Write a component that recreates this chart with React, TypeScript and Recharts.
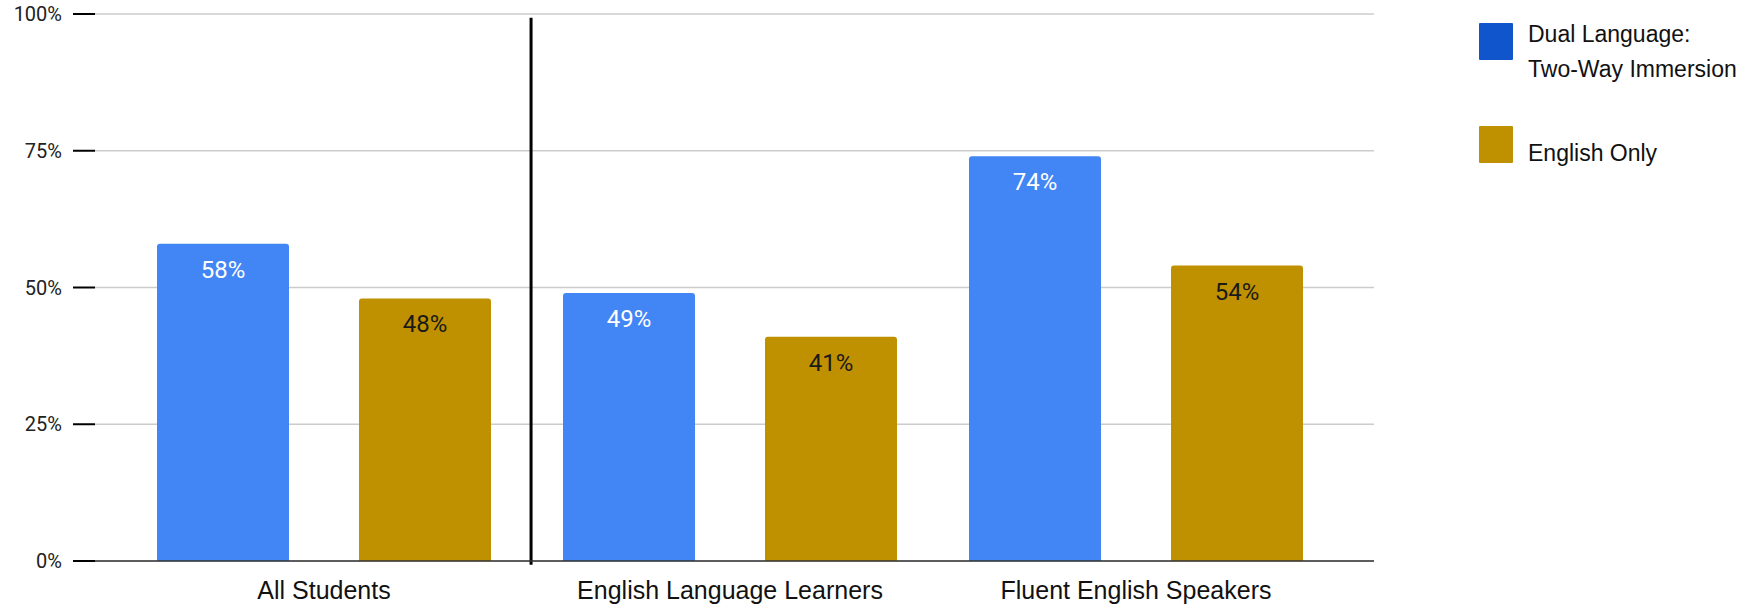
import { BarChart, Bar, XAxis, YAxis, CartesianGrid, LabelList, ReferenceLine } from 'recharts';

const categories = ['All Students', 'English Language Learners', 'Fluent English Speakers'];
const dualLanguage = [58, 49, 74];
const englishOnly = [48, 41, 54];
const yTicks = [0, 25, 50, 75, 100];
const seriesNames = ['Dual Language:\nTwo-Way Immersion', 'English Only'];

const BAR_COLORS = ['#4285f4', '#bf9000'];
const LEGEND_COLORS = ['#1155cc', '#bf9000'];

const data = categories.map((name, i) => ({
  name,
  idx: i,
  dual: dualLanguage[i],
  english: englishOnly[i],
}));

const fmt = (v: number) => `${v}%`;

export default function App() {
  return (
    <div style={{ position: 'absolute', left: 0, top: 0, width: 1763, height: 611, background: '#fff' }}>
      <BarChart
        width={1763}
        height={611}
        data={data}
        margin={{ top: 14, right: 389, left: 0, bottom: 0 }}
        barSize={132}
        barGap={70}
      >
        <CartesianGrid vertical={false} stroke="#cccccc" strokeWidth={1.5} />
        <XAxis
          dataKey="name"
          height={50}
          padding={{ left: 26, right: 35 }}
          axisLine={{ stroke: '#333', strokeWidth: 1.5 }}
          tickLine={false}
          tickMargin={14}
          tick={{ fill: '#111', fontSize: 25, fontFamily: '"Liberation Sans", Arial, sans-serif' }}
        />
        {/* hidden numeric axis (category index space), only used to place the group separator */}
        <XAxis
          xAxisId="sep"
          dataKey="idx"
          type="number"
          domain={[-0.5, 2.5]}
          ticks={[-0.5, 0.5, 1.5, 2.5]}
          allowDataOverflow
          padding={{ left: 26, right: 35 }}
          hide
        />
        <YAxis
          width={95}
          domain={[0, 100]}
          ticks={yTicks}
          tickFormatter={fmt}
          axisLine={false}
          tickSize={22}
          tickMargin={11}
          tickLine={{ stroke: '#000', strokeWidth: 2 }}
          tick={{ fill: '#222', fontSize: 20, fontFamily: 'Roboto, Arial, sans-serif' }}
        />
        <ReferenceLine
          xAxisId="sep"
          segment={[{ x: 0.51, y: 99.3 }, { x: 0.51, y: -0.7 }]}
          stroke="#000"
          strokeWidth={3}
          ifOverflow="visible"
        />
        <Bar dataKey="dual" fill={BAR_COLORS[0]} radius={[3, 3, 0, 0]} isAnimationActive={false}>
          <LabelList
            dataKey="dual"
            position="insideTop"
            offset={17}
            formatter={fmt}
            fill="#ffffff"
            fontSize={24}
            fontFamily="Roboto, Arial, sans-serif"
          />
        </Bar>
        <Bar dataKey="english" fill={BAR_COLORS[1]} radius={[3, 3, 0, 0]} isAnimationActive={false}>
          <LabelList
            dataKey="english"
            position="insideTop"
            offset={17}
            formatter={fmt}
            fill="#1a1a1a"
            fontSize={24}
            fontFamily="Roboto, Arial, sans-serif"
          />
        </Bar>
      </BarChart>

      {/* legend */}
      <div style={{ position: 'absolute', left: 1479, top: 23, fontFamily: '"Liberation Sans", Arial, sans-serif', fontSize: 23, color: '#111' }}>
        {seriesNames.map((label, i) => (
          <div key={label} style={{ display: 'flex', alignItems: 'flex-start', height: i === 0 ? 103 : 40 }}>
            <div style={{ width: 34, height: 37, background: LEGEND_COLORS[i], borderRadius: 1 }} />
            <div style={{ marginLeft: 15, marginTop: i === 0 ? -6 : 10, lineHeight: '35px', whiteSpace: 'pre' }}>{label}</div>
          </div>
        ))}
      </div>
    </div>
  );
}
